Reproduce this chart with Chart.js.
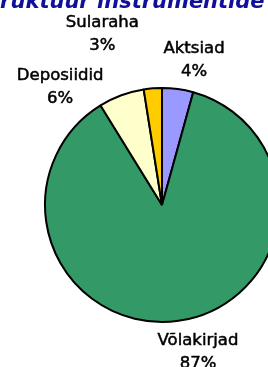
<!DOCTYPE html>
<html>
<head>
<meta charset="utf-8">
<script src="https://cdn.jsdelivr.net/npm/chart.js@4/dist/chart.umd.min.js"></script>
<style>
  html, body { margin: 0; padding: 0; background: #fff; overflow: hidden; width: 268px; height: 367px; }
  #wrap { position: absolute; left: 0; top: 0; width: 324px; height: 367px; }
</style>
</head>
<body>
<div id="wrap"><canvas id="c" width="324" height="367"></canvas></div>
<script>
// Data
const titleText = 'Portfelli struktuur instrumentide lõikes';
const categories = ['Aktsiad', 'Võlakirjad', 'Deposiidid', 'Sularaha'];
const shares = [4.3, 86.9, 6.3, 2.5];
const sliceColors = ['#9999FF', '#339966', '#FFFFCC', '#FFCC00'];

// Label placement nudges (layout only)
const labelNudges = [[12, 3], [15, 0], [-50, 22], [-48, -22]];

const labelPlugin = {
  id: 'pieLabels',
  afterDraw(chart) {
    const ctx = chart.ctx;
    const meta = chart.getDatasetMeta(0);
    const total = shares.reduce((a, b) => a + b, 0);
    ctx.save();
    ctx.font = '16.5px "DejaVu Sans"';
    ctx.fillStyle = '#000';
    ctx.strokeStyle = '#000';
    ctx.lineWidth = 0.5;
    ctx.textAlign = 'center';
    ctx.textBaseline = 'middle';
    meta.data.forEach((arc, i) => {
      const p = arc.getProps(['x', 'y', 'startAngle', 'endAngle', 'outerRadius'], true);
      const mid = (p.startAngle + p.endAngle) / 2;
      const d = p.outerRadius + 32;
      const cx = p.x + Math.cos(mid) * d + labelNudges[i][0];
      const cy = p.y + Math.sin(mid) * d + labelNudges[i][1];
      const pct = Math.round(shares[i] / total * 100) + '%';
      ctx.fillText(categories[i], cx, cy - 11.5);
      ctx.strokeText(categories[i], cx, cy - 11.5);
      ctx.fillText(pct, cx, cy + 11.5);
      ctx.strokeText(pct, cx, cy + 11.5);
    });
    // Title (partly cut at the top of the picture)
    ctx.font = 'italic bold 21px "DejaVu Sans"';
    ctx.fillStyle = '#10109a';
    ctx.textAlign = 'left';
    ctx.textBaseline = 'alphabetic';
    const pre = 'Portfelli struktuur ';
    const w = ctx.measureText(pre).width;
    ctx.fillText(titleText, 97 - w, 8);
    ctx.restore();
  }
};

new Chart(document.getElementById('c'), {
  type: 'pie',
  data: {
    labels: categories,
    datasets: [{
      data: shares,
      backgroundColor: sliceColors,
      borderColor: '#000',
      borderWidth: 2
    }]
  },
  options: {
    responsive: false,
    devicePixelRatio: 1,
    animation: false,
    layout: { padding: { left: 44, right: 44, top: 87, bottom: 44 } },
    plugins: {
      legend: { display: false },
      tooltip: { enabled: false },
      title: { display: false }
    }
  },
  plugins: [labelPlugin]
});
</script>
</body>
</html>
